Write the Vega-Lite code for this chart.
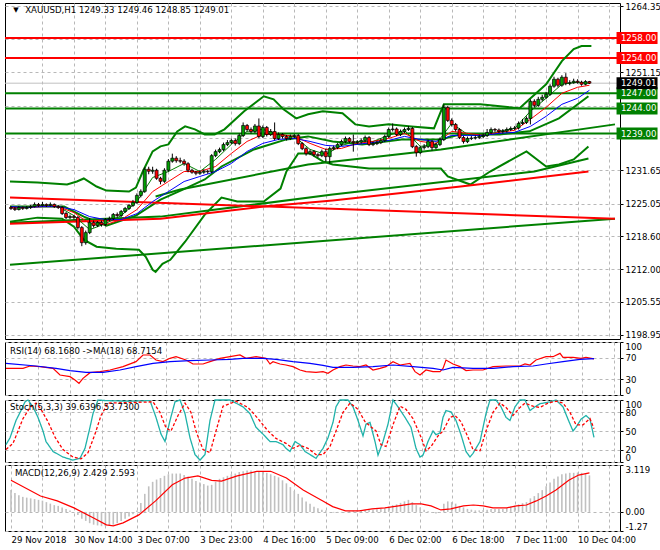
{
"$schema":"https://vega.github.io/schema/vega-lite/v6.json",
"padding":{"left":2,"top":1,"right":0,"bottom":0},
"background":"white",
"spacing":0,
"config":{"view":{"stroke":"#000000","strokeWidth":1},
"axis":{"labelFont":"DejaVu Sans","labelFontSize":8.6,"labelColor":"#000000","gridColor":"#b8b8b8","gridDash":[3,3],"domain":false,"tickColor":"#000000"},
"text":{"font":"DejaVu Sans","fontSize":8.6}},
"datasets":{
"levels":[{"p":1258,"kind":"resistance","label":"1258.00"},{"p":1254,"kind":"resistance","label":"1254.00"},{"p":1247,"kind":"support","label":"1247.00"},{"p":1244,"kind":"support","label":"1244.00"},{"p":1239,"kind":"support","label":"1239.00"},{"p":1249.01,"kind":"bid","label":"1249.01"}],
"candles":[
{"i":0,"o":1224.3,"h":1224.6,"l":1223.8,"c":1224.1},{"i":1,"o":1224.1,"h":1224.4,"l":1223.6,"c":1223.9},{"i":2,"o":1223.9,"h":1224.6,"l":1223.7,"c":1224.3},{"i":3,"o":1224.3,"h":1224.5,"l":1223.8,"c":1224.1},{"i":4,"o":1224.1,"h":1224.6,"l":1223.9,"c":1224.3},{"i":5,"o":1224.3,"h":1224.8,"l":1224.0,"c":1224.5},{"i":6,"o":1224.5,"h":1225.3,"l":1224.3,"c":1224.9},{"i":7,"o":1224.9,"h":1225.2,"l":1224.4,"c":1224.7},{"i":8,"o":1224.7,"h":1225.4,"l":1224.5,"c":1224.9},{"i":9,"o":1224.9,"h":1225.1,"l":1224.4,"c":1224.7},
{"i":10,"o":1224.7,"h":1225.3,"l":1224.5,"c":1224.9},{"i":11,"o":1224.9,"h":1225.1,"l":1224.2,"c":1224.5},{"i":12,"o":1224.5,"h":1224.8,"l":1224.0,"c":1224.3},{"i":13,"o":1224.3,"h":1224.6,"l":1222.8,"c":1223.1},{"i":14,"o":1223.1,"h":1223.4,"l":1222.0,"c":1222.3},{"i":15,"o":1222.3,"h":1222.9,"l":1222.0,"c":1222.5},{"i":16,"o":1222.5,"h":1222.8,"l":1221.9,"c":1222.3},{"i":17,"o":1222.3,"h":1222.6,"l":1219.9,"c":1220.3},{"i":18,"o":1220.3,"h":1220.6,"l":1216.6,"c":1217.3},{"i":19,"o":1217.3,"h":1219.7,"l":1216.9,"c":1219.3},
{"i":20,"o":1219.3,"h":1222.2,"l":1219.0,"c":1221.3},{"i":21,"o":1221.3,"h":1221.7,"l":1220.3,"c":1220.7},{"i":22,"o":1220.7,"h":1221.6,"l":1220.4,"c":1221.3},{"i":23,"o":1221.3,"h":1221.7,"l":1220.5,"c":1220.9},{"i":24,"o":1220.9,"h":1222.2,"l":1220.6,"c":1221.9},{"i":25,"o":1221.9,"h":1222.5,"l":1221.6,"c":1222.1},{"i":26,"o":1222.1,"h":1223.2,"l":1221.8,"c":1222.9},{"i":27,"o":1222.9,"h":1223.3,"l":1222.3,"c":1222.7},{"i":28,"o":1222.7,"h":1223.8,"l":1222.4,"c":1223.5},{"i":29,"o":1223.5,"h":1224.4,"l":1223.2,"c":1224.1},
{"i":30,"o":1224.1,"h":1225.0,"l":1223.8,"c":1224.7},{"i":31,"o":1224.7,"h":1225.8,"l":1224.4,"c":1225.3},{"i":32,"o":1225.3,"h":1227.1,"l":1225.0,"c":1226.7},{"i":33,"o":1226.7,"h":1227.9,"l":1226.3,"c":1227.5},{"i":34,"o":1227.5,"h":1232.3,"l":1227.2,"c":1231.9},{"i":35,"o":1231.9,"h":1232.4,"l":1230.9,"c":1231.5},{"i":36,"o":1231.5,"h":1232.4,"l":1231.0,"c":1231.7},{"i":37,"o":1231.7,"h":1232.0,"l":1229.8,"c":1230.1},{"i":38,"o":1230.1,"h":1230.4,"l":1228.9,"c":1229.5},{"i":39,"o":1229.5,"h":1232.1,"l":1229.2,"c":1231.7},
{"i":40,"o":1231.7,"h":1233.9,"l":1231.4,"c":1233.5},{"i":41,"o":1233.5,"h":1235.0,"l":1233.2,"c":1234.1},{"i":42,"o":1234.1,"h":1234.5,"l":1233.2,"c":1233.6},{"i":43,"o":1233.6,"h":1234.2,"l":1233.1,"c":1233.5},{"i":44,"o":1233.5,"h":1233.9,"l":1232.6,"c":1233.0},{"i":45,"o":1233.0,"h":1233.3,"l":1231.3,"c":1231.7},{"i":46,"o":1231.7,"h":1232.0,"l":1231.0,"c":1231.3},{"i":47,"o":1231.3,"h":1231.6,"l":1230.7,"c":1231.1},{"i":48,"o":1231.1,"h":1231.7,"l":1230.8,"c":1231.3},{"i":49,"o":1231.3,"h":1231.9,"l":1231.0,"c":1231.5},
{"i":50,"o":1231.5,"h":1231.8,"l":1231.0,"c":1231.4},{"i":51,"o":1231.4,"h":1234.9,"l":1231.1,"c":1234.6},{"i":52,"o":1234.6,"h":1235.8,"l":1234.3,"c":1235.4},{"i":53,"o":1235.4,"h":1236.2,"l":1235.1,"c":1235.8},{"i":54,"o":1235.8,"h":1237.2,"l":1235.5,"c":1236.8},{"i":55,"o":1236.8,"h":1237.7,"l":1236.5,"c":1237.2},{"i":56,"o":1237.2,"h":1238.0,"l":1236.9,"c":1237.6},{"i":57,"o":1237.6,"h":1238.0,"l":1236.6,"c":1237.0},{"i":58,"o":1237.0,"h":1239.0,"l":1236.7,"c":1238.6},{"i":59,"o":1238.6,"h":1241.2,"l":1238.3,"c":1240.6},
{"i":60,"o":1240.6,"h":1240.9,"l":1239.4,"c":1239.8},{"i":61,"o":1239.8,"h":1240.2,"l":1239.0,"c":1239.4},{"i":62,"o":1239.4,"h":1240.9,"l":1239.1,"c":1240.5},{"i":63,"o":1240.5,"h":1242.0,"l":1238.1,"c":1238.4},{"i":64,"o":1238.4,"h":1240.6,"l":1238.1,"c":1240.2},{"i":65,"o":1240.2,"h":1240.5,"l":1238.4,"c":1238.8},{"i":66,"o":1238.8,"h":1239.9,"l":1238.5,"c":1239.4},{"i":67,"o":1239.4,"h":1241.2,"l":1237.7,"c":1238.0},{"i":68,"o":1238.0,"h":1239.2,"l":1237.7,"c":1238.8},{"i":69,"o":1238.8,"h":1239.1,"l":1238.0,"c":1238.4},
{"i":70,"o":1238.4,"h":1238.7,"l":1237.6,"c":1238.0},{"i":71,"o":1238.0,"h":1238.8,"l":1237.7,"c":1238.4},{"i":72,"o":1238.4,"h":1238.9,"l":1238.1,"c":1238.6},{"i":73,"o":1238.6,"h":1238.9,"l":1236.7,"c":1237.0},{"i":74,"o":1237.0,"h":1237.3,"l":1235.7,"c":1236.0},{"i":75,"o":1236.0,"h":1236.3,"l":1234.6,"c":1235.0},{"i":76,"o":1235.0,"h":1235.8,"l":1234.7,"c":1235.4},{"i":77,"o":1235.4,"h":1235.7,"l":1234.4,"c":1234.8},{"i":78,"o":1234.8,"h":1235.1,"l":1234.2,"c":1234.6},{"i":79,"o":1234.6,"h":1235.8,"l":1234.3,"c":1235.4},
{"i":80,"o":1235.4,"h":1236.0,"l":1233.4,"c":1234.4},{"i":81,"o":1234.4,"h":1236.4,"l":1233.0,"c":1236.0},{"i":82,"o":1236.0,"h":1236.6,"l":1235.7,"c":1236.2},{"i":83,"o":1236.2,"h":1237.1,"l":1235.9,"c":1236.8},{"i":84,"o":1236.8,"h":1237.8,"l":1236.5,"c":1237.4},{"i":85,"o":1237.4,"h":1238.4,"l":1237.1,"c":1238.0},{"i":86,"o":1238.0,"h":1238.3,"l":1237.1,"c":1237.4},{"i":87,"o":1237.4,"h":1238.8,"l":1235.4,"c":1237.2},{"i":88,"o":1237.2,"h":1237.7,"l":1236.9,"c":1237.3},{"i":89,"o":1237.3,"h":1238.0,"l":1237.0,"c":1237.6},
{"i":90,"o":1237.6,"h":1238.6,"l":1237.3,"c":1238.2},{"i":91,"o":1238.2,"h":1238.5,"l":1236.5,"c":1236.8},{"i":92,"o":1236.8,"h":1237.4,"l":1236.5,"c":1237.0},{"i":93,"o":1237.0,"h":1237.6,"l":1236.7,"c":1237.2},{"i":94,"o":1237.2,"h":1238.0,"l":1236.9,"c":1237.6},{"i":95,"o":1237.6,"h":1238.8,"l":1237.3,"c":1238.4},{"i":96,"o":1238.4,"h":1240.2,"l":1238.1,"c":1239.8},{"i":97,"o":1239.8,"h":1241.0,"l":1239.4,"c":1239.9},{"i":98,"o":1239.9,"h":1240.2,"l":1238.5,"c":1238.8},{"i":99,"o":1238.8,"h":1239.8,"l":1238.5,"c":1239.4},
{"i":100,"o":1239.4,"h":1240.2,"l":1239.1,"c":1239.8},{"i":101,"o":1239.8,"h":1240.5,"l":1239.5,"c":1240.0},{"i":102,"o":1240.0,"h":1240.3,"l":1236.1,"c":1236.4},{"i":103,"o":1236.4,"h":1236.7,"l":1234.4,"c":1235.2},{"i":104,"o":1235.2,"h":1236.6,"l":1234.9,"c":1236.2},{"i":105,"o":1236.2,"h":1236.9,"l":1235.8,"c":1236.4},{"i":106,"o":1236.4,"h":1237.8,"l":1236.1,"c":1237.4},{"i":107,"o":1237.4,"h":1237.7,"l":1235.6,"c":1236.2},{"i":108,"o":1236.2,"h":1237.2,"l":1235.9,"c":1236.8},{"i":109,"o":1236.8,"h":1238.2,"l":1236.5,"c":1237.8},
{"i":110,"o":1237.8,"h":1244.8,"l":1237.5,"c":1244.2},{"i":111,"o":1244.2,"h":1244.5,"l":1241.3,"c":1241.6},{"i":112,"o":1241.6,"h":1242.0,"l":1240.4,"c":1240.8},{"i":113,"o":1240.8,"h":1241.1,"l":1239.4,"c":1239.8},{"i":114,"o":1239.8,"h":1240.1,"l":1237.9,"c":1238.2},{"i":115,"o":1238.2,"h":1238.5,"l":1237.0,"c":1237.4},{"i":116,"o":1237.4,"h":1238.4,"l":1237.1,"c":1238.0},{"i":117,"o":1238.0,"h":1238.5,"l":1237.7,"c":1238.1},{"i":118,"o":1238.1,"h":1238.6,"l":1237.8,"c":1238.2},{"i":119,"o":1238.2,"h":1238.8,"l":1237.9,"c":1238.4},
{"i":120,"o":1238.4,"h":1239.0,"l":1238.1,"c":1238.6},{"i":121,"o":1238.6,"h":1239.9,"l":1238.3,"c":1239.2},{"i":122,"o":1239.2,"h":1240.2,"l":1238.9,"c":1239.8},{"i":123,"o":1239.8,"h":1240.1,"l":1239.3,"c":1239.7},{"i":124,"o":1239.7,"h":1240.0,"l":1239.1,"c":1239.4},{"i":125,"o":1239.4,"h":1239.9,"l":1239.0,"c":1239.5},{"i":126,"o":1239.5,"h":1240.2,"l":1239.2,"c":1239.8},{"i":127,"o":1239.8,"h":1240.4,"l":1239.5,"c":1240.0},{"i":128,"o":1240.0,"h":1240.5,"l":1239.7,"c":1240.1},{"i":129,"o":1240.1,"h":1241.4,"l":1239.8,"c":1241.0},
{"i":130,"o":1241.0,"h":1241.9,"l":1240.7,"c":1241.2},{"i":131,"o":1241.2,"h":1242.4,"l":1240.9,"c":1242.0},{"i":132,"o":1242.0,"h":1245.8,"l":1240.8,"c":1245.4},{"i":133,"o":1245.4,"h":1245.8,"l":1244.2,"c":1244.6},{"i":134,"o":1244.6,"h":1246.3,"l":1244.3,"c":1245.8},{"i":135,"o":1245.8,"h":1246.7,"l":1245.4,"c":1246.2},{"i":136,"o":1246.2,"h":1247.3,"l":1245.9,"c":1246.8},{"i":137,"o":1246.8,"h":1248.8,"l":1246.5,"c":1248.4},{"i":138,"o":1248.4,"h":1250.3,"l":1248.1,"c":1249.8},{"i":139,"o":1249.8,"h":1250.1,"l":1248.2,"c":1248.6},
{"i":140,"o":1248.6,"h":1250.6,"l":1248.3,"c":1250.2},{"i":141,"o":1250.2,"h":1251.0,"l":1248.6,"c":1249.0},{"i":142,"o":1249.0,"h":1249.6,"l":1248.6,"c":1249.1},{"i":143,"o":1249.1,"h":1249.9,"l":1248.9,"c":1249.4},{"i":144,"o":1249.4,"h":1249.8,"l":1248.9,"c":1249.2},{"i":145,"o":1249.2,"h":1249.5,"l":1248.5,"c":1248.8},{"i":146,"o":1248.8,"h":1249.6,"l":1248.6,"c":1249.33},{"i":147,"o":1249.33,"h":1249.46,"l":1248.85,"c":1249.01}],
"lines":[
{"s":"upper","i":-0.25,"p":1229.46},{"s":"upper","i":6.75,"p":1229.26},{"s":"upper","i":14.25,"p":1228.86},{"s":"upper","i":16.75,"p":1229.46},{"s":"upper","i":18.5,"p":1230.06},{"s":"upper","i":21.75,"p":1228.46},{"s":"upper","i":24.25,"p":1227.66},{"s":"upper","i":30,"p":1227.46},{"s":"upper","i":31.75,"p":1228.26},{"s":"upper","i":33.5,"p":1231.45},{"s":"upper","i":36,"p":1235.44},{"s":"upper","i":38,"p":1236.44},{"s":"upper","i":40,"p":1236.84},{"s":"upper","i":42.25,"p":1239.43},{"s":"upper","i":44.25,"p":1240.42},{"s":"upper","i":46.75,"p":1239.83},{"s":"upper","i":49.25,"p":1238.83},{"s":"upper","i":51.75,"p":1238.83},{"s":"upper","i":54.25,"p":1239.83},{"s":"upper","i":59.25,"p":1243.42},{"s":"upper","i":64.25,"p":1246.41},{"s":"upper","i":66.75,"p":1245.81},{"s":"upper","i":69.25,"p":1243.81},{"s":"upper","i":72.5,"p":1242.02},{"s":"upper","i":75.5,"p":1242.82},{"s":"upper","i":79.25,"p":1243.42},{"s":"upper","i":84.25,"p":1243.02},{"s":"upper","i":87.5,"p":1240.82},{"s":"upper","i":91,"p":1240.42},{"s":"upper","i":96,"p":1240.82},{"s":"upper","i":101.75,"p":1240.42},{"s":"upper","i":107.5,"p":1240.03},{"s":"upper","i":109.25,"p":1243.42},{"s":"upper","i":110,"p":1244.81},{"s":"upper","i":119.25,"p":1244.81},{"s":"upper","i":129.25,"p":1244.01},{"s":"upper","i":131.75,"p":1245.81},{"s":"upper","i":136,"p":1248.8},{"s":"upper","i":140,"p":1253.39},{"s":"upper","i":143,"p":1255.78},{"s":"upper","i":145,"p":1256.38},{"s":"upper","i":147.5,"p":1256.38},
{"s":"middle","i":-0.25,"p":1224.47},{"s":"middle","i":13.5,"p":1224.47},{"s":"middle","i":18.5,"p":1222.48},{"s":"middle","i":24.25,"p":1220.68},{"s":"middle","i":31.75,"p":1222.68},{"s":"middle","i":38,"p":1225.87},{"s":"middle","i":44.25,"p":1228.06},{"s":"middle","i":49.25,"p":1229.86},{"s":"middle","i":53.5,"p":1232.45},{"s":"middle","i":61.75,"p":1235.84},{"s":"middle","i":70,"p":1237.83},{"s":"middle","i":75.5,"p":1238.43},{"s":"middle","i":81.75,"p":1237.43},{"s":"middle","i":89.25,"p":1236.84},{"s":"middle","i":99.25,"p":1237.83},{"s":"middle","i":109.25,"p":1237.83},{"s":"middle","i":114.25,"p":1238.83},{"s":"middle","i":124.25,"p":1238.83},{"s":"middle","i":131.75,"p":1239.43},{"s":"middle","i":139.25,"p":1242.02},{"s":"middle","i":146.75,"p":1246.41},
{"s":"lower","i":-0.25,"p":1221.48},{"s":"lower","i":6.75,"p":1222.28},{"s":"lower","i":13,"p":1222.08},{"s":"lower","i":16,"p":1220.49},{"s":"lower","i":18.5,"p":1217.89},{"s":"lower","i":21.75,"p":1216.5},{"s":"lower","i":26.75,"p":1216.1},{"s":"lower","i":32.5,"p":1215.9},{"s":"lower","i":34.25,"p":1214.5},{"s":"lower","i":36,"p":1211.91},{"s":"lower","i":36.75,"p":1211.51},{"s":"lower","i":38.5,"p":1213.11},{"s":"lower","i":40.5,"p":1213.9},{"s":"lower","i":44.25,"p":1217.49},{"s":"lower","i":49.25,"p":1222.88},{"s":"lower","i":53.5,"p":1226.27},{"s":"lower","i":57.5,"p":1225.47},{"s":"lower","i":64.25,"p":1225.47},{"s":"lower","i":68.5,"p":1228.06},{"s":"lower","i":70,"p":1231.45},{"s":"lower","i":73,"p":1235.04},{"s":"lower","i":76,"p":1235.04},{"s":"lower","i":79.25,"p":1233.45},{"s":"lower","i":81.75,"p":1232.85},{"s":"lower","i":91,"p":1232.05},{"s":"lower","i":109.25,"p":1232.05},{"s":"lower","i":111,"p":1230.46},{"s":"lower","i":116.75,"p":1228.86},{"s":"lower","i":121.75,"p":1231.45},{"s":"lower","i":131,"p":1235.44},{"s":"lower","i":136,"p":1232.45},{"s":"lower","i":139.25,"p":1232.85},{"s":"lower","i":143,"p":1233.85},{"s":"lower","i":146.75,"p":1236.44},
{"s":"C","i":-0.25,"p":1212.91},{"s":"C","i":153.5,"p":1222.08},
{"s":"D","i":-0.25,"p":1221.28},{"s":"D","i":38,"p":1222.48},{"s":"D","i":81.75,"p":1226.87},{"s":"D","i":133,"p":1231.45},{"s":"D","i":146.75,"p":1234.04},
{"s":"E","i":36.75,"p":1226.47},{"s":"E","i":43,"p":1227.86},{"s":"E","i":75.5,"p":1232.85},{"s":"E","i":109.25,"p":1235.84},{"s":"E","i":153.5,"p":1240.82},
{"s":"A","i":-0.25,"p":1226.27},{"s":"A","i":153.5,"p":1222.08},
{"s":"B","i":-0.25,"p":1221.08},{"s":"B","i":38,"p":1222.08},{"s":"B","i":64.25,"p":1224.47},{"s":"B","i":81.75,"p":1225.67},{"s":"B","i":114.25,"p":1228.46},{"s":"B","i":146.75,"p":1231.45}],
"ma":[
{"s":"fast","i":0,"p":1224.27},{"s":"fast","i":4,"p":1224.4},{"s":"fast","i":8,"p":1224.67},{"s":"fast","i":12,"p":1224.47},{"s":"fast","i":16,"p":1222.68},{"s":"fast","i":20,"p":1219.89},{"s":"fast","i":24,"p":1221.08},{"s":"fast","i":28,"p":1222.68},{"s":"fast","i":32,"p":1225.47},{"s":"fast","i":36,"p":1230.26},{"s":"fast","i":40,"p":1231.45},{"s":"fast","i":44,"p":1233.05},{"s":"fast","i":48,"p":1231.45},{"s":"fast","i":52,"p":1233.85},{"s":"fast","i":56,"p":1236.84},{"s":"fast","i":60,"p":1239.43},{"s":"fast","i":64,"p":1239.83},{"s":"fast","i":68,"p":1238.83},{"s":"fast","i":72,"p":1238.43},{"s":"fast","i":76,"p":1235.84},{"s":"fast","i":80,"p":1234.84},{"s":"fast","i":84,"p":1236.64},{"s":"fast","i":88,"p":1237.43},{"s":"fast","i":92,"p":1237.43},{"s":"fast","i":96,"p":1238.63},{"s":"fast","i":100,"p":1239.63},{"s":"fast","i":104,"p":1236.44},{"s":"fast","i":108,"p":1236.84},{"s":"fast","i":112,"p":1241.02},{"s":"fast","i":116,"p":1238.83},{"s":"fast","i":120,"p":1238.43},{"s":"fast","i":124,"p":1239.43},{"s":"fast","i":128,"p":1240.03},{"s":"fast","i":132,"p":1243.42},{"s":"fast","i":136,"p":1246.01},{"s":"fast","i":140,"p":1248.8},{"s":"fast","i":144,"p":1249.2},{"s":"fast","i":147,"p":1249.0},
{"s":"mid","i":0,"p":1224.27},{"s":"mid","i":4,"p":1224.3},{"s":"mid","i":8,"p":1224.47},{"s":"mid","i":12,"p":1224.47},{"s":"mid","i":16,"p":1223.28},{"s":"mid","i":20,"p":1221.08},{"s":"mid","i":24,"p":1220.88},{"s":"mid","i":28,"p":1221.88},{"s":"mid","i":32,"p":1223.88},{"s":"mid","i":36,"p":1227.46},{"s":"mid","i":40,"p":1229.46},{"s":"mid","i":44,"p":1231.45},{"s":"mid","i":48,"p":1231.45},{"s":"mid","i":52,"p":1232.45},{"s":"mid","i":56,"p":1235.04},{"s":"mid","i":60,"p":1237.43},{"s":"mid","i":64,"p":1238.83},{"s":"mid","i":68,"p":1238.83},{"s":"mid","i":72,"p":1238.43},{"s":"mid","i":76,"p":1237.04},{"s":"mid","i":80,"p":1235.84},{"s":"mid","i":84,"p":1236.04},{"s":"mid","i":88,"p":1237.04},{"s":"mid","i":92,"p":1237.43},{"s":"mid","i":96,"p":1238.03},{"s":"mid","i":100,"p":1239.03},{"s":"mid","i":104,"p":1237.43},{"s":"mid","i":108,"p":1237.04},{"s":"mid","i":112,"p":1239.43},{"s":"mid","i":116,"p":1239.03},{"s":"mid","i":120,"p":1238.63},{"s":"mid","i":124,"p":1239.23},{"s":"mid","i":128,"p":1239.63},{"s":"mid","i":132,"p":1241.82},{"s":"mid","i":136,"p":1244.21},{"s":"mid","i":140,"p":1247.0},{"s":"mid","i":144,"p":1248.2},{"s":"mid","i":147,"p":1248.6},
{"s":"slow","i":0,"p":1224.47},{"s":"slow","i":4,"p":1224.3},{"s":"slow","i":8,"p":1224.47},{"s":"slow","i":12,"p":1224.47},{"s":"slow","i":16,"p":1223.88},{"s":"slow","i":20,"p":1222.48},{"s":"slow","i":24,"p":1221.88},{"s":"slow","i":28,"p":1221.88},{"s":"slow","i":32,"p":1223.08},{"s":"slow","i":36,"p":1225.47},{"s":"slow","i":40,"p":1227.46},{"s":"slow","i":44,"p":1229.46},{"s":"slow","i":48,"p":1230.46},{"s":"slow","i":52,"p":1231.45},{"s":"slow","i":56,"p":1233.05},{"s":"slow","i":60,"p":1235.44},{"s":"slow","i":64,"p":1237.04},{"s":"slow","i":68,"p":1237.83},{"s":"slow","i":72,"p":1238.03},{"s":"slow","i":76,"p":1237.43},{"s":"slow","i":80,"p":1236.64},{"s":"slow","i":84,"p":1236.44},{"s":"slow","i":88,"p":1236.84},{"s":"slow","i":92,"p":1237.23},{"s":"slow","i":96,"p":1237.63},{"s":"slow","i":100,"p":1238.43},{"s":"slow","i":104,"p":1237.83},{"s":"slow","i":108,"p":1237.43},{"s":"slow","i":112,"p":1238.63},{"s":"slow","i":116,"p":1238.63},{"s":"slow","i":120,"p":1238.63},{"s":"slow","i":124,"p":1239.03},{"s":"slow","i":128,"p":1239.23},{"s":"slow","i":132,"p":1240.42},{"s":"slow","i":136,"p":1242.42},{"s":"slow","i":140,"p":1244.81},{"s":"slow","i":144,"p":1246.01},{"s":"slow","i":147,"p":1247.6}],
"rsi":[
{"s":"RSI","i":0,"v":50.3},{"s":"RSI","i":4.25,"v":50.3},{"s":"RSI","i":6,"v":54.7},{"s":"RSI","i":8.5,"v":53.5},{"s":"RSI","i":11.75,"v":50.3},{"s":"RSI","i":13.5,"v":37.7},{"s":"RSI","i":16,"v":34.6},{"s":"RSI","i":17.25,"v":28.3},{"s":"RSI","i":18.25,"v":22.0},{"s":"RSI","i":19.25,"v":31.4},{"s":"RSI","i":21,"v":42.1},{"s":"RSI","i":23.5,"v":44.0},{"s":"RSI","i":26,"v":47.2},{"s":"RSI","i":29.25,"v":53.5},{"s":"RSI","i":32.5,"v":62.9},{"s":"RSI","i":34.25,"v":75.5},{"s":"RSI","i":36,"v":75.5},{"s":"RSI","i":37.5,"v":66.0},{"s":"RSI","i":39.25,"v":62.9},{"s":"RSI","i":41,"v":69.2},{"s":"RSI","i":42.5,"v":72.3},{"s":"RSI","i":45,"v":66.0},{"s":"RSI","i":46.75,"v":58.5},{"s":"RSI","i":49.25,"v":58.5},{"s":"RSI","i":51,"v":62.9},{"s":"RSI","i":53.5,"v":69.2},{"s":"RSI","i":56,"v":72.3},{"s":"RSI","i":58.5,"v":75.5},{"s":"RSI","i":60,"v":69.2},{"s":"RSI","i":62.5,"v":72.3},{"s":"RSI","i":65,"v":69.2},{"s":"RSI","i":66,"v":58.5},{"s":"RSI","i":66.75,"v":62.9},{"s":"RSI","i":68.5,"v":58.5},{"s":"RSI","i":70,"v":56.6},{"s":"RSI","i":71.75,"v":53.5},{"s":"RSI","i":73.5,"v":47.2},{"s":"RSI","i":75,"v":44.0},{"s":"RSI","i":77.5,"v":42.8},{"s":"RSI","i":79.25,"v":44.0},{"s":"RSI","i":80.5,"v":40.9},{"s":"RSI","i":81.75,"v":47.2},{"s":"RSI","i":83.5,"v":53.5},{"s":"RSI","i":85,"v":56.6},{"s":"RSI","i":86.75,"v":54.7},{"s":"RSI","i":88.5,"v":53.5},{"s":"RSI","i":90,"v":56.6},{"s":"RSI","i":91.75,"v":47.2},{"s":"RSI","i":93.5,"v":50.3},{"s":"RSI","i":95,"v":53.5},{"s":"RSI","i":96.75,"v":62.9},{"s":"RSI","i":98.5,"v":56.6},{"s":"RSI","i":101,"v":59.7},{"s":"RSI","i":102.25,"v":44.0},{"s":"RSI","i":103.5,"v":37.7},{"s":"RSI","i":105,"v":47.2},{"s":"RSI","i":106.75,"v":44.0},{"s":"RSI","i":108.5,"v":44.0},{"s":"RSI","i":109.25,"v":50.3},{"s":"RSI","i":110,"v":66.0},{"s":"RSI","i":111.75,"v":58.5},{"s":"RSI","i":113.5,"v":53.5},{"s":"RSI","i":115,"v":46.0},{"s":"RSI","i":116.75,"v":47.2},{"s":"RSI","i":119.25,"v":47.2},{"s":"RSI","i":121.75,"v":53.5},{"s":"RSI","i":125,"v":54.7},{"s":"RSI","i":128.5,"v":54.7},{"s":"RSI","i":129.75,"v":58.5},{"s":"RSI","i":131,"v":56.6},{"s":"RSI","i":132.5,"v":66.0},{"s":"RSI","i":135,"v":72.3},{"s":"RSI","i":136.75,"v":72.3},{"s":"RSI","i":138.5,"v":78.6},{"s":"RSI","i":139.25,"v":71.0},{"s":"RSI","i":141.75,"v":71.0},{"s":"RSI","i":143.75,"v":69.2},{"s":"RSI","i":145,"v":71.0},{"s":"RSI","i":147,"v":68.17},
{"s":"MA","i":0,"v":59.7},{"s":"MA","i":7.5,"v":54.7},{"s":"MA","i":12.5,"v":50.3},{"s":"MA","i":16,"v":45.9},{"s":"MA","i":20,"v":42.8},{"s":"MA","i":24.25,"v":42.8},{"s":"MA","i":28.5,"v":47.2},{"s":"MA","i":32.5,"v":53.5},{"s":"MA","i":36.75,"v":59.7},{"s":"MA","i":41,"v":62.9},{"s":"MA","i":46,"v":64.8},{"s":"MA","i":51,"v":66.0},{"s":"MA","i":56,"v":67.3},{"s":"MA","i":59.25,"v":69.2},{"s":"MA","i":64.25,"v":69.2},{"s":"MA","i":67.5,"v":67.3},{"s":"MA","i":71.75,"v":62.9},{"s":"MA","i":76,"v":59.7},{"s":"MA","i":79.25,"v":55.9},{"s":"MA","i":81.75,"v":52.2},{"s":"MA","i":86.75,"v":52.2},{"s":"MA","i":91.75,"v":53.5},{"s":"MA","i":96.75,"v":56.6},{"s":"MA","i":101.75,"v":53.5},{"s":"MA","i":106.75,"v":50.3},{"s":"MA","i":109.25,"v":47.2},{"s":"MA","i":111.75,"v":52.2},{"s":"MA","i":116.75,"v":50.3},{"s":"MA","i":121.75,"v":50.3},{"s":"MA","i":126.75,"v":53.5},{"s":"MA","i":131.75,"v":54.7},{"s":"MA","i":135,"v":58.5},{"s":"MA","i":139.25,"v":62.9},{"s":"MA","i":143.5,"v":67.3},{"s":"MA","i":147,"v":68.72}],
"stoch":[
{"s":"main","i":0,"v":28},{"s":"main","i":1,"v":39},{"s":"main","i":2.5,"v":67},{"s":"main","i":3.75,"v":83},{"s":"main","i":4.75,"v":97},{"s":"main","i":5.5,"v":100},{"s":"main","i":6.75,"v":89},{"s":"main","i":8,"v":72},{"s":"main","i":9.25,"v":50},{"s":"main","i":10,"v":33},{"s":"main","i":11.75,"v":17},{"s":"main","i":14.25,"v":8},{"s":"main","i":16.75,"v":3},{"s":"main","i":18.5,"v":6},{"s":"main","i":19.75,"v":22},{"s":"main","i":21,"v":56},{"s":"main","i":21.75,"v":78},{"s":"main","i":23,"v":100},{"s":"main","i":25,"v":99},{"s":"main","i":30.5,"v":98},{"s":"main","i":36,"v":99},{"s":"main","i":37.5,"v":72},{"s":"main","i":38.75,"v":45},{"s":"main","i":39.75,"v":33},{"s":"main","i":41,"v":67},{"s":"main","i":42.25,"v":97},{"s":"main","i":43.5,"v":100},{"s":"main","i":44.75,"v":78},{"s":"main","i":46,"v":39},{"s":"main","i":47.25,"v":12},{"s":"main","i":48.5,"v":3},{"s":"main","i":49.75,"v":12},{"s":"main","i":51,"v":67},{"s":"main","i":52.25,"v":100},{"s":"main","i":56,"v":100},{"s":"main","i":57.5,"v":95},{"s":"main","i":59.25,"v":89},{"s":"main","i":61,"v":78},{"s":"main","i":62.5,"v":56},{"s":"main","i":64.25,"v":45},{"s":"main","i":66,"v":33},{"s":"main","i":67.5,"v":33},{"s":"main","i":69.25,"v":28},{"s":"main","i":70,"v":22},{"s":"main","i":71,"v":17},{"s":"main","i":72.25,"v":33},{"s":"main","i":73.5,"v":28},{"s":"main","i":74.75,"v":17},{"s":"main","i":76,"v":12},{"s":"main","i":77.5,"v":6},{"s":"main","i":79.25,"v":22},{"s":"main","i":80.5,"v":39},{"s":"main","i":81.75,"v":64},{"s":"main","i":82.5,"v":89},{"s":"main","i":83.5,"v":100},{"s":"main","i":85.5,"v":100},{"s":"main","i":86.75,"v":89},{"s":"main","i":88,"v":67},{"s":"main","i":89.25,"v":42},{"s":"main","i":90,"v":61},{"s":"main","i":91,"v":64},{"s":"main","i":92.25,"v":33},{"s":"main","i":93,"v":11},{"s":"main","i":94.25,"v":33},{"s":"main","i":95.5,"v":61},{"s":"main","i":96.75,"v":100},{"s":"main","i":98,"v":89},{"s":"main","i":99.75,"v":72},{"s":"main","i":101.25,"v":56},{"s":"main","i":102.5,"v":22},{"s":"main","i":103.5,"v":8},{"s":"main","i":104.25,"v":11},{"s":"main","i":105.5,"v":33},{"s":"main","i":106.75,"v":50},{"s":"main","i":107.5,"v":44},{"s":"main","i":108.5,"v":47},{"s":"main","i":109.25,"v":72},{"s":"main","i":110,"v":83},{"s":"main","i":111.25,"v":81},{"s":"main","i":112.5,"v":67},{"s":"main","i":113.75,"v":44},{"s":"main","i":115,"v":17},{"s":"main","i":116,"v":8},{"s":"main","i":116.75,"v":14},{"s":"main","i":118.5,"v":33},{"s":"main","i":120,"v":78},{"s":"main","i":121,"v":100},{"s":"main","i":122.5,"v":100},{"s":"main","i":123.75,"v":89},{"s":"main","i":125,"v":72},{"s":"main","i":126,"v":67},{"s":"main","i":127.25,"v":89},{"s":"main","i":128.5,"v":100},{"s":"main","i":129.75,"v":100},{"s":"main","i":131,"v":83},{"s":"main","i":132.25,"v":89},{"s":"main","i":133.5,"v":94},{"s":"main","i":136,"v":97},{"s":"main","i":137.5,"v":100},{"s":"main","i":139.25,"v":89},{"s":"main","i":140.5,"v":69},{"s":"main","i":141.75,"v":50},{"s":"main","i":142.5,"v":56},{"s":"main","i":143.75,"v":69},{"s":"main","i":145,"v":75},{"s":"main","i":146,"v":69},{"s":"main","i":147,"v":39.64},
{"s":"signal","i":0,"v":20},{"s":"signal","i":1.75,"v":30},{"s":"signal","i":3,"v":50},{"s":"signal","i":4.25,"v":70},{"s":"signal","i":6,"v":88},{"s":"signal","i":7.5,"v":95},{"s":"signal","i":8.75,"v":85},{"s":"signal","i":10.5,"v":65},{"s":"signal","i":12.25,"v":40},{"s":"signal","i":14.25,"v":20},{"s":"signal","i":16.75,"v":8},{"s":"signal","i":18.75,"v":5},{"s":"signal","i":20.5,"v":15},{"s":"signal","i":22.25,"v":45},{"s":"signal","i":23.75,"v":75},{"s":"signal","i":25.5,"v":95},{"s":"signal","i":36.75,"v":97},{"s":"signal","i":38.5,"v":80},{"s":"signal","i":40,"v":55},{"s":"signal","i":41.25,"v":50},{"s":"signal","i":43,"v":75},{"s":"signal","i":44.75,"v":95},{"s":"signal","i":46.25,"v":80},{"s":"signal","i":47.5,"v":50},{"s":"signal","i":49.25,"v":20},{"s":"signal","i":51,"v":15},{"s":"signal","i":52.5,"v":50},{"s":"signal","i":54.25,"v":90},{"s":"signal","i":57.5,"v":98},{"s":"signal","i":60.5,"v":88},{"s":"signal","i":63,"v":70},{"s":"signal","i":65.5,"v":50},{"s":"signal","i":67.5,"v":38},{"s":"signal","i":70,"v":30},{"s":"signal","i":71.75,"v":22},{"s":"signal","i":73.5,"v":27},{"s":"signal","i":75.5,"v":22},{"s":"signal","i":77.5,"v":12},{"s":"signal","i":79.25,"v":12},{"s":"signal","i":81,"v":25},{"s":"signal","i":82.5,"v":50},{"s":"signal","i":84.25,"v":80},{"s":"signal","i":86,"v":95},{"s":"signal","i":88,"v":85},{"s":"signal","i":89.75,"v":65},{"s":"signal","i":91,"v":58},{"s":"signal","i":92.5,"v":50},{"s":"signal","i":93.75,"v":28},{"s":"signal","i":95,"v":25},{"s":"signal","i":96.75,"v":60},{"s":"signal","i":98.5,"v":90},{"s":"signal","i":100,"v":85},{"s":"signal","i":101.75,"v":70},{"s":"signal","i":103.75,"v":40},{"s":"signal","i":105,"v":18},{"s":"signal","i":106.25,"v":25},{"s":"signal","i":108,"v":42},{"s":"signal","i":109.25,"v":50},{"s":"signal","i":111,"v":72},{"s":"signal","i":112.25,"v":75},{"s":"signal","i":113.75,"v":65},{"s":"signal","i":115.5,"v":40},{"s":"signal","i":116.75,"v":20},{"s":"signal","i":118.5,"v":18},{"s":"signal","i":120,"v":50},{"s":"signal","i":121.75,"v":80},{"s":"signal","i":123.5,"v":95},{"s":"signal","i":125,"v":88},{"s":"signal","i":126.75,"v":75},{"s":"signal","i":128.5,"v":88},{"s":"signal","i":129.75,"v":95},{"s":"signal","i":131.75,"v":90},{"s":"signal","i":133.5,"v":88},{"s":"signal","i":135.5,"v":95},{"s":"signal","i":137.5,"v":98},{"s":"signal","i":139.25,"v":95},{"s":"signal","i":141,"v":80},{"s":"signal","i":142.5,"v":60},{"s":"signal","i":144.25,"v":60},{"s":"signal","i":146,"v":70},{"s":"signal","i":147,"v":53.73}],
"macd":[
{"i":0,"v":1.46},{"i":1,"v":1.25},{"i":2,"v":1.1},{"i":3,"v":1.0},{"i":4,"v":0.95},{"i":5,"v":0.9},{"i":6,"v":0.85},{"i":7,"v":0.8},{"i":8,"v":0.75},{"i":9,"v":0.65},{"i":10,"v":0.55},{"i":11,"v":0.45},{"i":12,"v":0.4},{"i":13,"v":0.3},{"i":14,"v":0.2},{"i":15,"v":0.1},{"i":16,"v":0.0},{"i":17,"v":-0.2},{"i":18,"v":-0.45},{"i":19,"v":-0.6},{"i":20,"v":-0.75},{"i":21,"v":-0.85},{"i":22,"v":-0.9},{"i":23,"v":-0.95},{"i":24,"v":-0.95},{"i":25,"v":-0.9},{"i":26,"v":-0.85},{"i":27,"v":-0.75},{"i":28,"v":-0.6},{"i":29,"v":-0.45},{"i":30,"v":-0.3},{"i":31,"v":-0.15},{"i":32,"v":0.1},{"i":33,"v":0.6},{"i":34,"v":1.2},{"i":35,"v":1.7},{"i":36,"v":2.0},{"i":37,"v":2.15},{"i":38,"v":2.25},{"i":39,"v":2.4},{"i":40,"v":2.5},{"i":41,"v":2.55},{"i":42,"v":2.55},{"i":43,"v":2.55},{"i":44,"v":2.45},{"i":45,"v":2.35},{"i":46,"v":2.2},{"i":47,"v":2.05},{"i":48,"v":1.95},{"i":49,"v":1.85},{"i":50,"v":1.75},{"i":51,"v":1.8},{"i":52,"v":2.0},{"i":53,"v":2.2},{"i":54,"v":2.3},{"i":55,"v":2.4},{"i":56,"v":2.5},{"i":57,"v":2.55},{"i":58,"v":2.65},{"i":59,"v":2.7},{"i":60,"v":2.75},{"i":61,"v":2.75},{"i":62,"v":2.7},{"i":63,"v":2.7},{"i":64,"v":2.65},{"i":65,"v":2.6},{"i":66,"v":2.5},{"i":67,"v":2.4},{"i":68,"v":2.3},{"i":69,"v":2.1},{"i":70,"v":1.9},{"i":71,"v":1.65},{"i":72,"v":1.4},{"i":73,"v":1.2},{"i":74,"v":0.95},{"i":75,"v":0.7},{"i":76,"v":0.55},{"i":77,"v":0.35},{"i":78,"v":0.25},{"i":79,"v":0.15},{"i":80,"v":0.1},{"i":81,"v":0.0},{"i":82,"v":-0.05},{"i":83,"v":-0.05},{"i":84,"v":-0.03},{"i":85,"v":0.0},{"i":86,"v":0.05},{"i":87,"v":0.08},{"i":88,"v":0.1},{"i":89,"v":0.12},{"i":90,"v":0.15},{"i":91,"v":0.12},{"i":92,"v":0.15},{"i":93,"v":0.18},{"i":94,"v":0.2},{"i":95,"v":0.25},{"i":96,"v":0.35},{"i":97,"v":0.45},{"i":98,"v":0.5},{"i":99,"v":0.6},{"i":100,"v":0.7},{"i":101,"v":0.8},{"i":102,"v":0.65},{"i":103,"v":0.45},{"i":104,"v":0.3},{"i":105,"v":0.15},{"i":106,"v":0.05},{"i":107,"v":-0.05},{"i":108,"v":-0.1},{"i":109,"v":-0.05},{"i":110,"v":0.55},{"i":111,"v":0.7},{"i":112,"v":0.65},{"i":113,"v":0.55},{"i":114,"v":0.4},{"i":115,"v":0.3},{"i":116,"v":0.2},{"i":117,"v":0.15},{"i":118,"v":0.1},{"i":119,"v":0.1},{"i":120,"v":0.12},{"i":121,"v":0.15},{"i":122,"v":0.2},{"i":123,"v":0.2},{"i":124,"v":0.2},{"i":125,"v":0.2},{"i":126,"v":0.25},{"i":127,"v":0.35},{"i":128,"v":0.42},{"i":129,"v":0.5},{"i":130,"v":0.58},{"i":131,"v":0.65},{"i":132,"v":0.9},{"i":133,"v":1.05},{"i":134,"v":1.25},{"i":135,"v":1.45},{"i":136,"v":1.7},{"i":137,"v":1.95},{"i":138,"v":2.2},{"i":139,"v":2.35},{"i":140,"v":2.5},{"i":141,"v":2.55},{"i":142,"v":2.6},{"i":143,"v":2.6},{"i":144,"v":2.62},{"i":145,"v":2.6},{"i":146,"v":2.52},{"i":147,"v":2.429}],
"macdsig":[
{"i":0,"v":2.1},{"i":7.5,"v":1.06},{"i":11.75,"v":0.73},{"i":16,"v":0.27},{"i":21,"v":-0.4},{"i":24.25,"v":-0.86},{"i":26,"v":-0.93},{"i":28.5,"v":-0.73},{"i":32.5,"v":-0.2},{"i":36.75,"v":0.73},{"i":41,"v":1.8},{"i":44.25,"v":2.25},{"i":47.5,"v":2.4},{"i":51,"v":2.1},{"i":53.5,"v":2.05},{"i":57.5,"v":2.4},{"i":62.5,"v":2.7},{"i":66,"v":2.7},{"i":70,"v":2.25},{"i":74.25,"v":1.46},{"i":79.25,"v":0.73},{"i":81.75,"v":0.35},{"i":85,"v":0.07},{"i":88.5,"v":0.07},{"i":91.75,"v":0.2},{"i":95,"v":0.27},{"i":98.5,"v":0.4},{"i":101.75,"v":0.53},{"i":104.25,"v":0.53},{"i":106.75,"v":0.4},{"i":109.25,"v":0.13},{"i":111.75,"v":0.2},{"i":115,"v":0.4},{"i":117.5,"v":0.46},{"i":120,"v":0.4},{"i":122.5,"v":0.27},{"i":126,"v":0.27},{"i":128.5,"v":0.4},{"i":131,"v":0.46},{"i":133.5,"v":0.73},{"i":136,"v":1.06},{"i":138.5,"v":1.46},{"i":141.75,"v":2.1},{"i":144.25,"v":2.45},{"i":147,"v":2.593}]
},
"vconcat":[
{"width":615,"height":336,
"resolve":{"axis":{"x":"independent","y":"independent"}},
"layer":[
{"data":{"name":"candles"},"mark":{"type":"rule","color":"#000000","strokeWidth":1},"encoding":{"x":{"field":"i","type":"quantitative","scale":{"domain":[-0.25,153.5],"nice":false,"zero":false},"axis":{"values":[8,16,24,32,40,48,56,64,72,80,88,96,104,112,120,128,136,144,152],"labels":false,"ticks":false,"grid":true,"title":null,"zindex":0}},"y":{"field":"l","type":"quantitative","scale":{"domain":[1198.15,1264.95],"nice":false,"zero":false},"axis":{"orient":"right","values":[1198.95,1205.55,1212.0,1218.6,1225.05,1231.65,1238.1,1244.55,1251.15,1257.75,1264.35],"labelExpr":"datum.value == 1257.75 || datum.value == 1244.55 || datum.value == 1238.1 ? '' : format(datum.value, '.2f')","grid":true,"title":null,"tickSize":3,"labelPadding":2,"labelOverlap":false,"zindex":0}},"y2":{"field":"h"},"opacity":{"value":0}}},
{"layer":[
{"data":{"name":"levels"},"transform":[{"filter":"datum.kind == 'bid'"}],"mark":{"type":"rule","color":"#c0c0c0","strokeWidth":1},"encoding":{"y":{"field":"p","type":"quantitative"}}},
{"data":{"name":"levels"},"transform":[{"filter":"datum.kind != 'bid'"}],"mark":{"type":"rule","strokeWidth":2},"encoding":{"y":{"field":"p","type":"quantitative"},"color":{"condition":{"test":"datum.kind == 'resistance'","value":"#ff0000"},"value":"#008000"}}},
{"data":{"name":"lines"},"mark":{"type":"line","strokeWidth":2,"clip":true},"encoding":{"x":{"field":"i","type":"quantitative"},"y":{"field":"p","type":"quantitative"},"detail":{"field":"s"},"color":{"condition":{"test":"datum.s == 'A' || datum.s == 'B'","value":"#ff0000"},"value":"#008000"}}},
{"data":{"name":"ma"},"mark":{"type":"line","strokeWidth":1,"clip":true},"encoding":{"x":{"field":"i","type":"quantitative"},"y":{"field":"p","type":"quantitative"},"detail":{"field":"s"},"color":{"condition":[{"test":"datum.s == 'fast'","value":"#008000"},{"test":"datum.s == 'mid'","value":"#ff0000"}],"value":"#0000ff"}}},
{"data":{"name":"candles"},"mark":{"type":"rule","color":"#000000","strokeWidth":1},"encoding":{"x":{"field":"i","type":"quantitative"},"y":{"field":"l","type":"quantitative"},"y2":{"field":"h"}}},
{"data":{"name":"candles"},"mark":{"type":"bar","width":3,"stroke":"#000000","strokeWidth":0.7},"encoding":{"x":{"field":"i","type":"quantitative"},"y":{"field":"o","type":"quantitative"},"y2":{"field":"c"},"fill":{"condition":{"test":"datum.c > datum.o","value":"#00a000"},"value":"#ff0000"}}},
{"data":{"values":[{"t":"▼"}]},"mark":{"type":"text","fontSize":7,"color":"#000000","baseline":"middle"},"encoding":{"x":{"datum":1.25,"type":"quantitative"},"y":{"datum":1263.5,"type":"quantitative"},"text":{"field":"t"}}},
{"data":{"values":[{"t":"XAUUSD,H1  1249.33 1249.46 1248.85 1249.01"}]},"mark":{"type":"text","align":"left","baseline":"middle","color":"#000000","fontSize":8.6},"encoding":{"x":{"datum":3.6,"type":"quantitative"},"y":{"datum":1263.5,"type":"quantitative"},"text":{"field":"t"}}},
{"data":{"name":"levels"},"mark":{"type":"tick","orient":"horizontal","thickness":12,"size":41,"clip":false,"opacity":1},"encoding":{"x":{"datum":159.1,"type":"quantitative"},"y":{"field":"p","type":"quantitative"},"color":{"condition":[{"test":"datum.kind == 'resistance'","value":"#ff0000"},{"test":"datum.kind == 'bid'","value":"#000000"}],"value":"#008000"}}},
{"data":{"name":"levels"},"mark":{"type":"text","align":"left","baseline":"middle","color":"#ffffff","clip":false,"fontSize":8.6},"encoding":{"x":{"datum":155.0,"type":"quantitative"},"y":{"field":"p","type":"quantitative"},"text":{"field":"label"}}}
],"encoding":{"x":{"axis":null},"y":{"axis":null}},"resolve":{"axis":{"x":"independent","y":"independent"}}}
]},
{"width":615,"height":53,
"resolve":{"axis":{"x":"independent","y":"independent"}},
"layer":[
{"data":{"name":"rsi"},"mark":{"type":"line","strokeWidth":1.2},"encoding":{"x":{"field":"i","type":"quantitative","scale":{"domain":[-0.25,153.5],"nice":false,"zero":false},"axis":{"values":[8,16,24,32,40,48,56,64,72,80,88,96,104,112,120,128,136,144,152],"labels":false,"ticks":false,"grid":true,"title":null,"zindex":0}},"y":{"field":"v","type":"quantitative","scale":{"domain":[0,100],"nice":false},"axis":{"orient":"right","values":[0,30,70,100],"grid":true,"title":null,"tickSize":3,"labelPadding":2,"labelFlush":true,"labelOverlap":false,"zindex":0}},"detail":{"field":"s"},"color":{"condition":{"test":"datum.s == 'RSI'","value":"#ff0000"},"value":"#0000ff"}}},
{"data":{"values":[{"t":"RSI(14) 68.1680  ->MA(18) 68.7154"}]},"mark":{"type":"text","align":"left","baseline":"middle","color":"#000000","fontSize":8.6},"encoding":{"x":{"datum":1,"type":"quantitative","axis":null},"y":{"datum":83,"type":"quantitative","axis":null},"text":{"field":"t"}}}
]},
{"width":615,"height":62,
"resolve":{"axis":{"x":"independent","y":"independent"}},
"layer":[
{"data":{"name":"stoch"},"mark":{"type":"line","strokeWidth":1.3},"encoding":{"x":{"field":"i","type":"quantitative","scale":{"domain":[-0.25,153.5],"nice":false,"zero":false},"axis":{"values":[8,16,24,32,40,48,56,64,72,80,88,96,104,112,120,128,136,144,152],"labels":false,"ticks":false,"grid":true,"title":null,"zindex":0}},"y":{"field":"v","type":"quantitative","scale":{"domain":[0,100],"nice":false},"axis":{"orient":"right","values":[0,20,50,80,100],"grid":true,"title":null,"tickSize":3,"labelPadding":2,"labelFlush":true,"labelOverlap":false,"zindex":0}},"detail":{"field":"s"},"color":{"condition":{"test":"datum.s == 'main'","value":"#20b2aa"},"value":"#ff0000"},"strokeDash":{"condition":{"test":"datum.s == 'signal'","value":[3,2]},"value":[1,0]}}},
{"data":{"values":[{"t":"Stoch(5,3,3) 39.6396 53.7300"}]},"mark":{"type":"text","align":"left","baseline":"middle","color":"#000000","fontSize":8.6},"encoding":{"x":{"datum":1,"type":"quantitative","axis":null},"y":{"datum":88,"type":"quantitative","axis":null},"text":{"field":"t"}}}
]},
{"width":615,"height":66,
"resolve":{"axis":{"x":"independent","y":"independent"}},
"layer":[
{"data":{"name":"macd"},"mark":{"type":"bar","width":1.6,"color":"#c0c0c0"},"encoding":{"x":{"field":"i","type":"quantitative","scale":{"domain":[-0.25,153.5],"nice":false,"zero":false},"axis":{"values":[0,8,16,24,32,40,48,56,64,72,80,88,96,104,112,120,128,136,144,152],"ticks":false,"grid":true,"title":null,"labelAlign":"left","labelPadding":4,"labelOverlap":false,"labelFlush":false,"zindex":0,"labelExpr":"datum.value==0?'29 Nov 2018':datum.value==16?'30 Nov 14:00':datum.value==32?'3 Dec 07:00':datum.value==48?'3 Dec 23:00':datum.value==64?'4 Dec 16:00':datum.value==80?'5 Dec 09:00':datum.value==96?'6 Dec 02:00':datum.value==112?'6 Dec 18:00':datum.value==128?'7 Dec 11:00':datum.value==144?'10 Dec 04:00':''"}},"y":{"field":"v","type":"quantitative","scale":{"domain":[-1.27,3.119],"nice":false,"zero":false},"axis":{"orient":"right","values":[-1.27,0,3.119],"grid":true,"title":null,"tickSize":3,"labelPadding":2,"labelFlush":true,"labelOverlap":false,"zindex":0,"labelExpr":"datum.value == 0 ? '0.00' : datum.value < 0 ? '-1.27' : '3.119'"}},"y2":{"datum":0}}},
{"data":{"name":"macdsig"},"mark":{"type":"line","strokeWidth":1.2,"color":"#ff0000"},"encoding":{"x":{"field":"i","type":"quantitative","axis":null},"y":{"field":"v","type":"quantitative","axis":null}}},
{"data":{"values":[{"t":"MACD(12,26,9) 2.429 2.593"}]},"mark":{"type":"text","align":"left","baseline":"middle","color":"#000000","fontSize":8.6},"encoding":{"x":{"datum":1,"type":"quantitative","axis":null},"y":{"datum":2.59,"type":"quantitative","axis":null},"text":{"field":"t"}}}
]}
]
}
